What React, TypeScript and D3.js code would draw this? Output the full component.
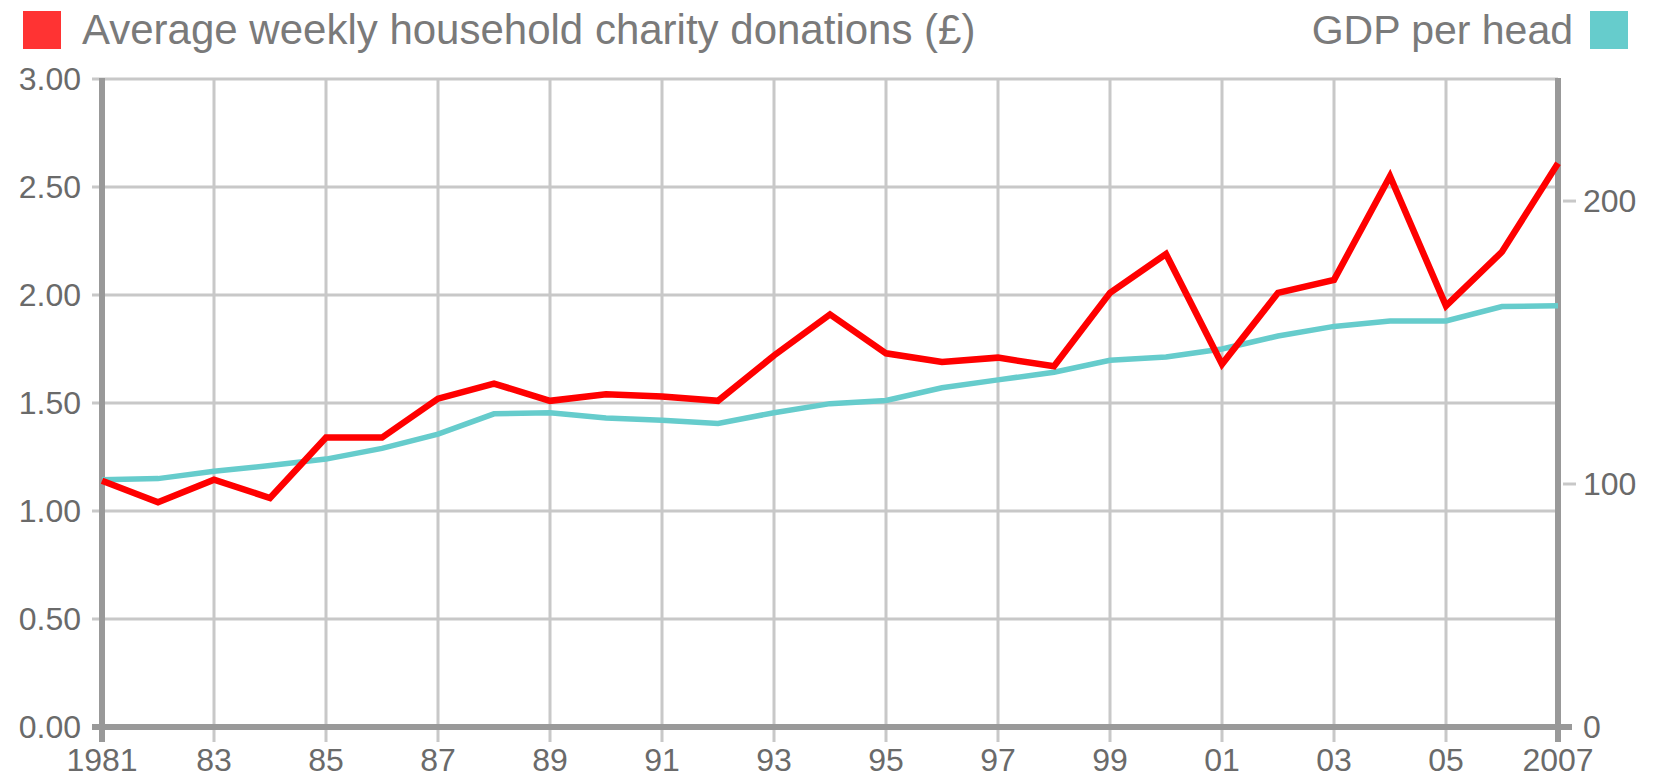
import React, { useEffect, useRef } from 'react';
import * as d3 from 'd3';

// Values
const years = [1981, 1982, 1983, 1984, 1985, 1986, 1987, 1988, 1989, 1990, 1991, 1992, 1993, 1994,
  1995, 1996, 1997, 1998, 1999, 2000, 2001, 2002, 2003, 2004, 2005, 2006, 2007];

const donations = [1.14, 1.04, 1.145, 1.06, 1.34, 1.34, 1.52, 1.59, 1.51, 1.54, 1.53, 1.51, 1.72, 1.91,
  1.73, 1.69, 1.71, 1.67, 2.01, 2.19, 1.68, 2.01, 2.07, 2.55, 1.95, 2.2, 2.61];

const gdpPerHead = [101.5, 101.9, 104.5, 106.5, 108.8, 112.6, 117.6, 124.8, 125.2, 123.3, 122.5, 121.4,
  125.2, 128.4, 129.5, 134.0, 136.8, 139.5, 143.7, 144.9, 147.7, 152.3, 155.7, 157.6, 157.6, 162.7, 163.0];

const xTickYears = [1981, 1983, 1985, 1987, 1989, 1991, 1993, 1995, 1997, 1999, 2001, 2003, 2005, 2007];
const xTickLabels = ['1981', '83', '85', '87', '89', '91', '93', '95', '97', '99', '01', '03', '05', '2007'];
const leftTicks = [0, 0.5, 1, 1.5, 2, 2.5, 3];
const rightTicks = [0, 100, 200];
// where the right axis ticks sit, in left axis units (the right axis is broken below 100)
const rightTickPos = [0, 1.125, 2.435];

const legendLeft = 'Average weekly household charity donations (£)';
const legendRight = 'GDP per head';

const RED = '#ff0000';
const TEAL = '#66cccc';
const GRID = '#c8c8c8';
const AXIS = '#999999';
const FONT = '"Liberation Sans", Arial, sans-serif';

const App = () => {
  const svgRef = useRef<SVGSVGElement>(null);

  useEffect(() => {
    const svg = d3.select(svgRef.current);
    svg.selectAll('*').remove();

    const W = 1655;
    const H = 781;
    const left = 102, right = 1558, top = 79, bottom = 727;

    svg.attr('width', W).attr('height', H);

    const x = d3.scaleLinear().domain([1981, 2007]).range([left, right]);
    const y = d3.scaleLinear().domain([0, 3]).range([bottom, top]);
    const yR = d3.scaleLinear().domain(rightTicks).range(rightTickPos.map(v => y(v)));

    // legend
    svg.append('rect').attr('x', 23).attr('y', 11).attr('width', 38).attr('height', 38).attr('fill', '#ff3333');
    svg.append('text').attr('x', 82).attr('y', 44)
      .style('font-family', FONT).style('font-size', '42px').attr('fill', '#7a7a7a')
      .text(legendLeft);
    svg.append('rect').attr('x', 1590).attr('y', 11).attr('width', 38).attr('height', 38).attr('fill', TEAL);
    svg.append('text').attr('x', 1573).attr('y', 44).attr('text-anchor', 'end')
      .style('font-family', FONT).style('font-size', '41px').attr('fill', '#7a7a7a')
      .text(legendRight);

    // horizontal grid
    svg.append('g').selectAll('line').data(leftTicks.filter(d => d > 0)).enter().append('line')
      .attr('x1', left - 10).attr('x2', right)
      .attr('y1', d => y(d)).attr('y2', d => y(d))
      .attr('stroke', GRID).attr('stroke-width', 3);

    // vertical grid
    svg.append('g').selectAll('line').data(xTickYears.slice(1, -1)).enter().append('line')
      .attr('x1', d => x(d)).attr('x2', d => x(d))
      .attr('y1', top).attr('y2', bottom + 15)
      .attr('stroke', GRID).attr('stroke-width', 3);

    // right axis ticks
    svg.append('g').selectAll('line').data(rightTicks.filter(d => d > 0)).enter().append('line')
      .attr('x1', right + 5).attr('x2', right + 18)
      .attr('y1', d => yR(d)).attr('y2', d => yR(d))
      .attr('stroke', GRID).attr('stroke-width', 3);

    // axes
    svg.append('line').attr('x1', left).attr('x2', left).attr('y1', top - 1).attr('y2', bottom + 15)
      .attr('stroke', AXIS).attr('stroke-width', 6);
    svg.append('line').attr('x1', right).attr('x2', right).attr('y1', top - 1).attr('y2', bottom + 15)
      .attr('stroke', AXIS).attr('stroke-width', 6);
    svg.append('line').attr('x1', left - 10).attr('x2', right + 14).attr('y1', bottom).attr('y2', bottom)
      .attr('stroke', AXIS).attr('stroke-width', 6);

    // tick labels
    svg.append('g').selectAll('text').data(leftTicks).enter().append('text')
      .attr('x', 81).attr('y', d => y(d)).attr('dy', '0.35em').attr('text-anchor', 'end')
      .style('font-family', FONT).style('font-size', '32px').attr('fill', '#6a6a6a')
      .text(d => d3.format('.2f')(d));

    svg.append('g').selectAll('text').data(rightTicks).enter().append('text')
      .attr('x', right + 25).attr('y', d => yR(d)).attr('dy', '0.35em')
      .style('font-family', FONT).style('font-size', '32px').attr('fill', '#6a6a6a')
      .text(d => String(d));

    svg.append('g').selectAll('text').data(xTickYears).enter().append('text')
      .attr('x', d => x(d)).attr('y', 771).attr('text-anchor', 'middle')
      .style('font-family', FONT).style('font-size', '32px').attr('fill', '#6a6a6a')
      .text((d, i) => xTickLabels[i]);

    // lines
    const gdpLine = d3.line<number>()
      .x((d, i) => x(years[i]))
      .y(d => yR(d));
    svg.append('path').datum(gdpPerHead)
      .attr('fill', 'none').attr('stroke', TEAL).attr('stroke-width', 5.5)
      .attr('d', gdpLine);

    const donationLine = d3.line<number>()
      .x((d, i) => x(years[i]))
      .y(d => y(d));
    svg.append('path').datum(donations)
      .attr('fill', 'none').attr('stroke', RED).attr('stroke-width', 6.5)
      .attr('d', donationLine);
  }, []);

  return (
    <div style={{ position: 'absolute', left: 0, top: 0, background: '#fff' }}>
      <svg ref={svgRef} style={{ display: 'block' }}></svg>
    </div>
  );
};

export default App;
